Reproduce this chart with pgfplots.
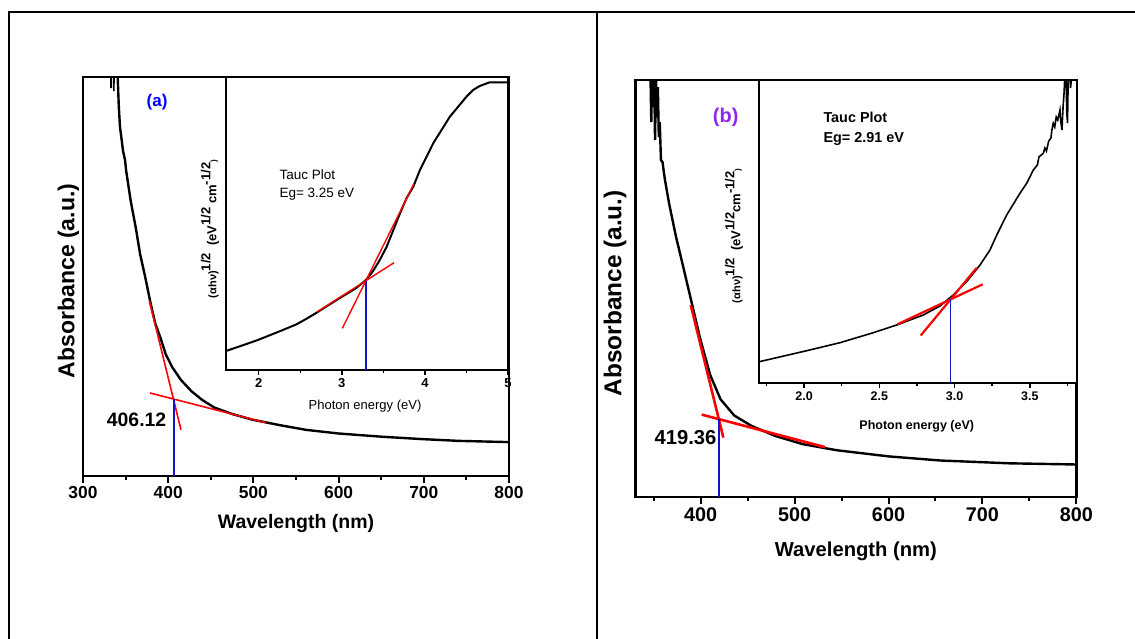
\documentclass[border=0pt]{standalone}
\usepackage{fontspec}
\setmainfont{Liberation Sans}
\usepackage{pgfplots}
\pgfplotsset{compat=1.18}
\definecolor{tanred}{RGB}{255,0,0}
\definecolor{egblue}{RGB}{20,20,200}
\definecolor{labpurple}{RGB}{140,40,240}
\newcommand{\fs}[1]{\fontsize{#1bp}{#1bp}\selectfont}
\pgfplotsset{
  mainax/.style={scale only axis, anchor=south west, axis line style={line width=2.2bp},
    tick align=outside, xtick pos=bottom, ytick=\empty, major tick length=7bp, minor tick length=4bp,
    every tick/.style={black, line width=2bp}, clip=true,
    /pgf/number format/assume math mode=true},
  insax/.style={scale only axis, anchor=south west, axis line style={line width=1.8bp},
    tick align=outside, xtick pos=bottom, ytick=\empty, major tick length=5bp, minor tick length=3bp,
    every tick/.style={black, line width=1.5bp}, axis background/.style={fill=white},
    /pgf/number format/assume math mode=true},
}
\begin{document}
\begin{tikzpicture}
\useasboundingbox (0,0) rectangle (1135bp,639bp);
% table frame
\draw[line width=2bp] (9bp,-5bp) -- (9bp,626.7bp) -- (1140bp,626.7bp);
\draw[line width=2bp] (596.7bp,-5bp) -- (596.7bp,626.7bp);

% ================= Panel (a) main =================
\begin{axis}[mainax, at={(83bp,163bp)}, width=426bp, height=399bp,
  xmin=300, xmax=800, ymin=0, ymax=3.99,
  xtick={300,400,...,800}, minor xtick={350,450,...,750},
  xticklabel style={font=\fs{17.4}\bfseries},
  xlabel={Wavelength (nm)},
  xlabel style={font=\fs{19.5}\bfseries, at={(axis description cs:0.5,-0.1178)}, anchor=center},
  ylabel={Absorbance (a.u.)},
  ylabel style={font=\fs{23}\bfseries, at={(axis description cs:-0.034,0.489)}, anchor=center},
]
\addplot[black, line width=2.4bp] coordinates {
(340.0,4.10) (340.7,3.99) (342.0,3.70) (343.4,3.49) (345.4,3.36) (347.0,3.25) (349.3,3.16)
(350.7,3.05) (356.0,2.75) (362.0,2.48) (367.0,2.22) (373.0,1.99) (380.0,1.70) (385.0,1.52)
(391.0,1.38) (397.0,1.22) (404.6,1.09) (415.0,0.96) (427.0,0.85) (440.0,0.76) (454.0,0.685)
(475.0,0.62) (499.0,0.563) (530.0,0.51) (562.0,0.461) (600.0,0.425) (652.0,0.392)
(700.0,0.368) (741.5,0.351) (800.0,0.339)};
\addplot[black, line width=1.6bp] coordinates {(332.5,4.1) (332.9,3.88) (333.3,4.1)};
\addplot[black, line width=1.6bp] coordinates {(335.8,4.1) (336.2,3.85) (336.6,4.1)};
\addplot[tanred, line width=1.6bp] coordinates {(377.8,1.753) (415.0,0.462)};
\addplot[tanred, line width=1.6bp] coordinates {(378.7,0.83) (514.8,0.532)};
\addplot[egblue, line width=1.8bp] coordinates {(406.5,0.77) (406.5,0)};
\node[font=\fs{17}\bfseries, text=blue] at (axis cs:386.9,3.741) {(a)};
\node[font=\fs{19.4}\bfseries] at (axis cs:362.9,0.563) {406.12};
\end{axis}

% ================= Panel (a) inset =================
\begin{axis}[insax, at={(226bp,269bp)}, width=282bp, height=293bp,
  xmin=1.606, xmax=5.0, ymin=0, ymax=2.93,
  xtick={2,3,4,5}, minor xtick={2.5,3.5,4.5},
  xticklabel style={font=\fs{13}\bfseries},
  xlabel={Photon energy (eV)},
  xlabel style={font=\fs{13}, at={(axis description cs:0.493,-0.1229)}, anchor=center},
  ylabel={{\fs{11}(αhν)}\raisebox{6bp}{1/2}\ \ (eV\raisebox{6bp}{1/2} cm\raisebox{6bp}{-1/2}{\fs{8})}},
  ylabel style={font=\fs{13}\bfseries, at={(axis description cs:-0.057,0.481)}, anchor=center},
]
\addplot[black, line width=2bp] coordinates {
(1.606,0.19) (1.8,0.245) (1.99,0.30) (2.29,0.40) (2.45,0.455) (2.57,0.51) (2.70,0.575) (2.97,0.717)
(3.17,0.817) (3.29,0.90) (3.37,0.983) (3.45,1.09) (3.54,1.233) (3.62,1.40) (3.70,1.567)
(3.78,1.72) (3.86,1.833) (3.94,2.00) (4.10,2.267) (4.30,2.533) (4.50,2.733) (4.58,2.80)
(4.66,2.84) (4.78,2.877) (5.0,2.877)};
\addplot[tanred, line width=1.4bp] coordinates {(3.006,0.417) (3.866,1.86)};
\addplot[tanred, line width=1.4bp] coordinates {(2.70,0.58) (3.63,1.074)};
\addplot[egblue, line width=1.4bp] coordinates {(3.29,0.893) (3.29,0)};
\node[font=\fs{13.5}, anchor=west, align=left] at (axis cs:2.208,1.956) {Tauc Plot};
\node[font=\fs{13.5}, anchor=west, align=left] at (axis cs:2.208,1.756) {Eg= 3.25 eV};
\end{axis}

% ================= Panel (b) main =================
\begin{axis}[mainax, at={(635.4bp,141.9bp)}, width=441bp, height=416.8bp,
  xmin=330.6, xmax=800, ymin=0, ymax=4.168,
  xtick={400,500,...,800}, minor xtick={350,450,...,750},
  xticklabel style={font=\fs{19.8}\bfseries},
  xlabel={Wavelength (nm)},
  xlabel style={font=\fs{20.2}\bfseries, at={(axis description cs:0.5,-0.1296)}, anchor=center},
  ylabel={Absorbance (a.u.)},
  ylabel style={font=\fs{24.4}\bfseries, at={(axis description cs:-0.0463,0.489)}, anchor=center},
]
\addplot[black, line width=2.4bp] coordinates {
(346.5,4.3) (347.5,3.75) (348.5,4.3) (349.5,3.9) (350.5,4.3) (351.5,3.57) (352.5,4.2)
(353.5,3.8) (354.5,4.1) (355.5,3.6) (356.5,3.75) (357.8,3.37) (359.5,3.35) (361.0,3.24)
(362.1,3.17) (366.5,2.934) (373.7,2.608) (381.0,2.322) (390.2,1.956) (399.4,1.589)
(410.2,1.222) (421.2,0.978) (435.9,0.815) (454.0,0.713) (479.6,0.611) (508.9,0.529)
(545.4,0.468) (600.2,0.407) (655.0,0.366) (728.0,0.338) (800.0,0.326)};
\addplot[tanred, line width=2.6bp] coordinates {(389.5,1.92) (424.2,0.595)};
\addplot[tanred, line width=2.6bp] coordinates {(401.2,0.825) (532.6,0.499)};
\addplot[egblue, line width=1.5bp] coordinates {(419.36,0.78) (419.36,0)};
\node[font=\fs{19.9}\bfseries, text=labpurple] at (axis cs:426.7,3.80) {(b)};
\node[font=\fs{20.2}\bfseries] at (axis cs:383.9,0.599) {419.36};
\end{axis}

% ================= Panel (b) inset =================
\begin{axis}[insax, at={(759bp,256bp)}, width=317.4bp, height=302.7bp,
  xmin=1.701, xmax=3.809, ymin=0, ymax=3.027,
  xtick={2.0,2.5,3.0,3.5}, minor xtick={1.75,2.25,2.75,3.25,3.75},
  xticklabel style={font=\fs{12.5}\bfseries, /pgf/number format/.cd, fixed, fixed zerofill, precision=1},
  xlabel={Photon energy (eV)},
  xlabel style={font=\fs{12.5}\bfseries, at={(axis description cs:0.497,-0.144)}, anchor=center},
  ylabel={{\fs{11}(αhν)}\raisebox{6bp}{1/2}\ \ (eV\raisebox{6bp}{1/2}cm\raisebox{6bp}{-1/2}{\fs{8})}},
  ylabel style={font=\fs{13}\bfseries, at={(axis description cs:-0.079,0.486)}, anchor=center},
]
\addplot[black, line width=1.6bp] coordinates {
(1.703,0.213) (2.018,0.323) (2.239,0.403) (2.46,0.503) (2.616,0.58) (2.792,0.68)
(2.903,0.77) (2.991,0.88) (3.08,1.013) (3.169,1.18) (3.235,1.33) (3.28,1.48) (3.346,1.68)
(3.434,1.897) (3.48,2.0) (3.523,2.13) (3.55,2.18) (3.56,2.26) (3.589,2.297) (3.60,2.35)
(3.61,2.32) (3.625,2.42) (3.64,2.45) (3.645,2.52) (3.655,2.597) (3.665,2.56) (3.675,2.66)
(3.685,2.63) (3.70,2.73) (3.705,2.62) (3.713,2.53) (3.72,2.75) (3.727,2.9) (3.733,3.1)
(3.74,3.1) (3.745,2.7) (3.75,2.6) (3.755,3.1) (3.765,3.1) (3.77,2.95) (3.78,3.1)};
\addplot[tanred, line width=2.2bp] coordinates {(2.775,0.475) (3.147,1.152)};
\addplot[tanred, line width=2.2bp] coordinates {(2.62,0.587) (3.187,0.987)};
\addplot[egblue, line width=1.2bp] coordinates {(2.974,0.837) (2.974,0)};
\node[font=\fs{14.4}\bfseries, anchor=west] at (axis cs:2.106,2.657) {Tauc Plot};
\node[font=\fs{14.4}\bfseries, anchor=west] at (axis cs:2.106,2.44) {Eg= 2.91 eV};
\end{axis}
\end{tikzpicture}
\end{document}
